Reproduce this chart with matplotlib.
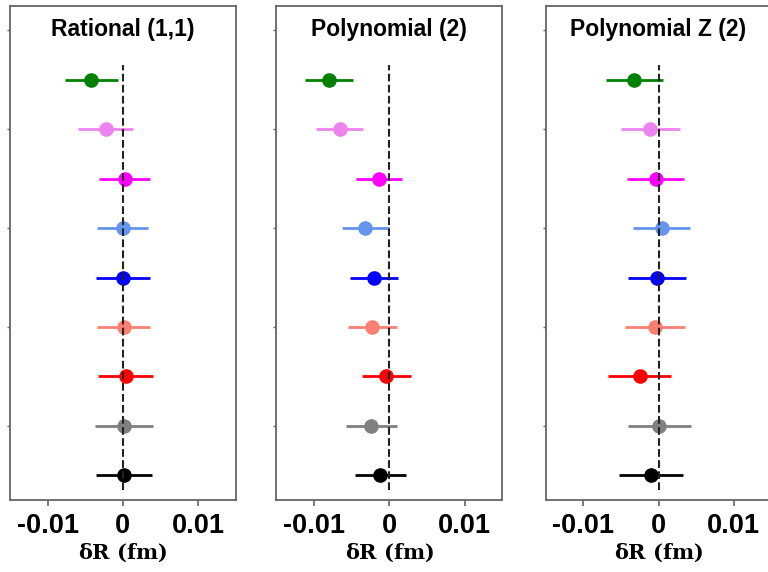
import numpy as np
import matplotlib.pyplot as plt

###############################################################################

titles = ['Rational (1,1)', 'Polynomial (2)', 'Polynomial Z (2)']

# top to bottom
colours = ['green', 'violet', 'magenta', 'cornflowerblue', 'blue',
           'salmon', 'red', 'gray', 'black']

# central values, in units of 1e-3 fm (top to bottom)
dr_rat = [-4.2, -2.3, 0.26, 0.0, 0.0, 0.1, 0.35, 0.15, 0.15]
dr_poly = [-8.0, -6.6, -1.4, -3.2, -2.0, -2.3, -0.4, -2.4, -1.2]
dr_polyz = [-3.2, -1.1, -0.4, 0.4, -0.2, -0.5, -2.5, 0.1, -1.0]

# half-widths of the error bars, units of 1e-3 fm
err_rat = [3.5, 3.6, 3.4, 3.4, 3.6, 3.5, 3.6, 3.85, 3.75]
err_poly = [3.15, 3.1, 3.05, 3.1, 3.2, 3.25, 3.3, 3.35, 3.4]
err_polyz = [3.8, 3.9, 3.75, 3.75, 3.9, 4.0, 4.2, 4.2, 4.25]

###############################################################################

if __name__ == "__main__":

    fig = plt.figure(figsize=(7.68, 5.72), dpi=100)

    lefts = [0.013, 0.360, 0.7105]
    all_dr = [dr_rat, dr_poly, dr_polyz]
    all_err = [err_rat, err_poly, err_polyz]

    n_pts = len(colours)
    ys = np.arange(n_pts)[::-1]  # top point at highest y

    for ii in range(3):
        ax = fig.add_axes([lefts[ii], 0.126, 0.294, 0.864])

        for jj in range(n_pts):
            ax.errorbar(all_dr[ii][jj] * 1e-3, ys[jj],
                        xerr=all_err[ii][jj] * 1e-3,
                        fmt='o', color=colours[jj], ms=9.5, elinewidth=2,
                        capsize=0, zorder=2)

        ax.vlines(0, -0.3, 8.3, colors='#222222', linestyles='--',
                  linewidth=1.5, zorder=3)

        ax.set_xlim(-0.015, 0.015)
        ax.set_ylim(-0.5, 9.5)
        ax.set_xticks([-0.01, 0, 0.01])
        ax.set_xticklabels(['-0.01', '0', '0.01'], fontsize=19.5,
                           fontweight='heavy', family='Liberation Sans')
        ax.set_yticks([1, 3, 5, 7, 9])
        ax.set_yticklabels([])
        ax.tick_params(axis='x', length=4, width=1.2, color='#666666',
                       pad=5.5)
        ax.tick_params(axis='y', length=2, width=1, color='#666666')
        for sp in ax.spines.values():
            sp.set_color('#666666')
            sp.set_linewidth(1.3)

        ax.text(0.5, 0.951, titles[ii], transform=ax.transAxes,
                ha='center', va='center', fontsize=16.5, fontweight='bold',
                family='Liberation Sans')
        ax.set_xlabel(r'$\mathregular{\delta}$R (fm)', fontsize=15,
                      family='DejaVu Serif', fontweight='bold', labelpad=2)

    plt.savefig('out.png', dpi=100)
